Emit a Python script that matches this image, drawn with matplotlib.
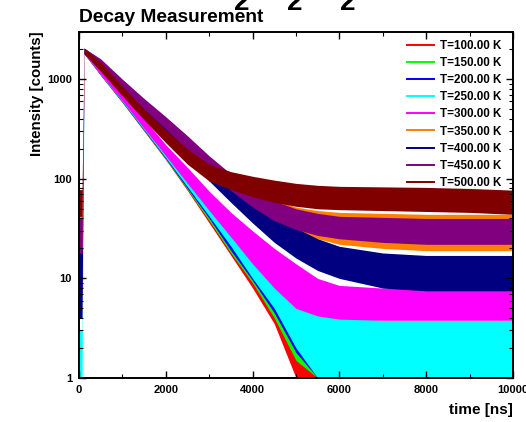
import numpy as np
import matplotlib
matplotlib.use('Agg')
import matplotlib.pyplot as plt
from matplotlib.ticker import MultipleLocator, LogLocator, NullFormatter

nan = np.nan

# time axis of the envelope readings (ns)
time_ns = [0, 70, 120, 500, 1000, 1500, 2000, 2500, 3000, 3500, 4000,
           4500, 5000, 5500, 6000, 7000, 8000, 9000, 10000]

labels = ['T=100.00 K', 'T=150.00 K', 'T=200.00 K', 'T=250.00 K', 'T=300.00 K',
          'T=350.00 K', 'T=400.00 K', 'T=450.00 K', 'T=500.00 K']
colors = ['#ff0000', '#00ff00', '#0000ff', '#00ffff', '#ff00ff',
          '#ff8000', '#000080', '#800080', '#800000']

# lower / upper edge of the noisy counts band
lo_100 = [nan, nan, 1800, 1090, 580, 300, 155, 76, 36, 17, 8, 3.5, 1, 1, nan, nan, nan, nan, nan]
hi_100 = [nan, nan, 2050, 1370, 730, 380, 205, 115, 64, 37, 21, 12, 7, 3, nan, nan, nan, nan, nan]
lo_150 = [nan, nan, 1800, 1100, 585, 305, 158, 78, 38, 18, 9, 4, 1.5, 1, 1, nan, nan, nan, nan]
hi_150 = [nan, nan, 2050, 1375, 735, 385, 208, 118, 66, 38, 22, 13, 7, 3.5, 1.5, nan, nan, nan, nan]
lo_200 = [nan, nan, 1800, 1100, 590, 308, 160, 80, 40, 19, 9.5, 4.5, 1.8, 1, 1, nan, nan, nan, nan]
hi_200 = [nan, nan, 2050, 1380, 740, 388, 210, 120, 67, 39, 23, 13, 7.5, 4, 2.5, nan, nan, nan, nan]
lo_250 = [1, 1, 1800, 1105, 595, 312, 163, 83, 42, 21, 10, 5, 2, 1, 1, 1, 1, 1, 1]
hi_250 = [3, 3, 2050, 1385, 750, 392, 212, 122, 70, 42, 25, 15, 9, 5.5, 4.2, 3.8, 3.8, 3.8, 3.8]
lo_300 = [7, 7, 1800, 1110, 605, 320, 170, 90, 48, 26, 14, 8, 5, 4.2, 3.9, 3.8, 3.8, 3.8, 3.8]
hi_300 = [11, 11, 2050, 1390, 760, 400, 220, 130, 75, 46, 30, 20, 14, 10, 8.5, 8, 8, 8, 8]
lo_350 = [18, 18, 1800, 1250, 760, 465, 285, 175, 108, 72, 50, 37, 30, 25, 22, 20, 19, 19, 19]
hi_350 = [44, 44, 2050, 1560, 950, 590, 370, 235, 150, 105, 78, 62, 52, 48, 46, 45, 44, 44, 44]
lo_400 = [4, 4, 1800, 1250, 760, 460, 280, 165, 95, 58, 36, 23, 16, 12, 10, 8, 7.5, 7.5, 7.5]
hi_400 = [20, 20, 2050, 1560, 950, 590, 370, 225, 135, 88, 60, 42, 32, 25, 21, 18, 17, 17, 17]
lo_450 = [18, 18, 1800, 1300, 800, 500, 315, 195, 118, 76, 52, 38, 31, 27, 25, 23, 22, 22, 22]
hi_450 = [40, 40, 2050, 1600, 1000, 640, 420, 270, 170, 112, 80, 60, 50, 45, 42, 41, 40, 40, 40]
lo_500 = [42, 42, 1800, 1200, 680, 390, 230, 140, 95, 78, 66, 58, 53, 50, 49, 48, 47, 46, 44]
hi_500 = [78, 78, 2050, 1480, 850, 500, 310, 200, 140, 118, 106, 97, 90, 86, 84, 83, 82, 80, 77]

lows = [lo_100, lo_150, lo_200, lo_250, lo_300, lo_350, lo_400, lo_450, lo_500]
highs = [hi_100, hi_150, hi_200, hi_250, hi_300, hi_350, hi_400, hi_450, hi_500]

plt.rcParams['font.family'] = ['Liberation Sans', 'DejaVu Sans']
plt.rcParams['font.weight'] = 'bold'

fig = plt.figure(figsize=(5.26, 4.22), dpi=100)
ax = fig.add_axes([79 / 526, 1 - 378 / 422, 434 / 526, 346.3 / 422])

# bands, first temperature at the bottom of the stack
for lo, hi, c, lab in zip(lows, highs, colors, labels):
    ax.fill_between(time_ns, lo, hi, color=c, linewidth=0)
    ax.plot([], [], color=c, lw=1.4, label=lab)

ax.set_yscale('log')
ax.set_xlim(0, 10000)
ax.set_ylim(1, 3000)

ax.xaxis.set_major_locator(MultipleLocator(2000))
ax.xaxis.set_minor_locator(MultipleLocator(1000))
ax.set_yticks([1, 10, 100, 1000])
ax.set_yticklabels(['1', '10', '100', '1000'])
ax.yaxis.set_minor_locator(LogLocator(base=10, subs=np.arange(2, 10)))
ax.yaxis.set_minor_formatter(NullFormatter())

ax.tick_params(which='both', direction='in', top=True, right=True, labelsize=8)
ax.tick_params(which='major', length=5, width=1)
ax.tick_params(which='minor', length=3, width=0.8)
ax.tick_params(axis='x', pad=5)
ax.tick_params(axis='y', pad=5)
for s in ax.spines.values():
    s.set_linewidth(1.4)

ax.set_ylabel('Intensity [counts]', fontsize=10.8, fontweight='bold', loc='top', labelpad=2)
ax.set_xlabel('time [ns]', fontsize=11, fontweight='bold', loc='right', labelpad=6)

ax.legend(loc='upper right', bbox_to_anchor=(0.993, 1.0), frameon=False, fontsize=8.4,
          handlelength=2.3, handletextpad=0.55, labelspacing=0.44, borderaxespad=0.3)

fig.text(79 / 526, 1 - 22 / 422, 'Decay Measurement', fontsize=13.8, fontweight='bold',
         ha='left', va='baseline')
for xp in [242, 295, 348]:
    fig.text(xp / 526, 1 - 10 / 422, '2', fontsize=20, fontweight='bold',
             ha='center', va='baseline')

plt.savefig('out.png', dpi=100)
plt.close()
